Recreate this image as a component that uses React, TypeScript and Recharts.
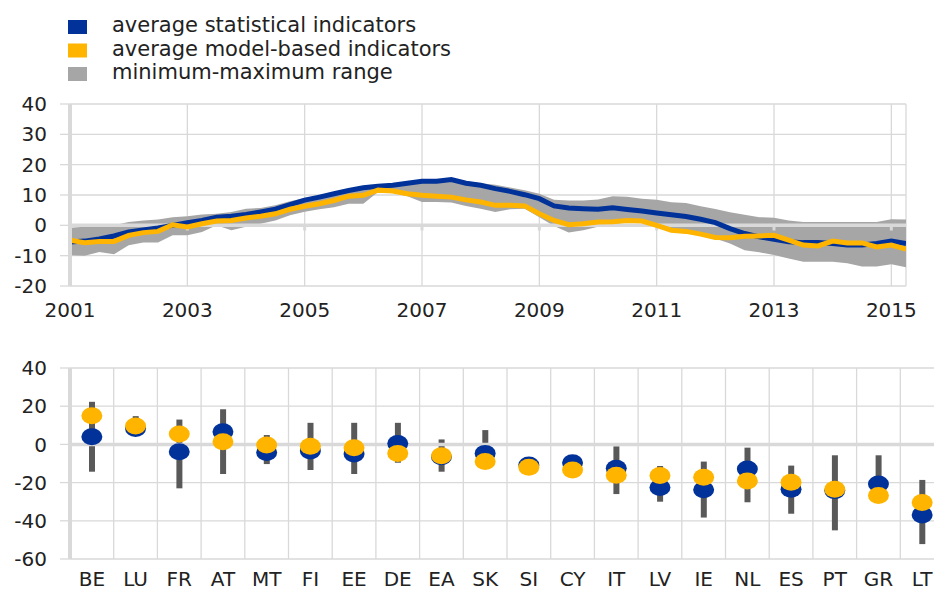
import {
  Area,
  Bar,
  CartesianGrid,
  ComposedChart,
  Line,
  ReferenceLine,
  XAxis,
  YAxis,
} from "recharts";

const BLUE = "#003299";
const ORANGE = "#ffb400";
const BAND = "#a6a6a6";
const RANGE = "#595959";
const GRID = "#d9d9d9";
const TEXT = "#222222";
const FONT = "'DejaVu Sans', sans-serif";

// top panel: quarterly, 2001Q1 .. 2015Q2
const START_YEAR = 2001;
const YEAR_TICKS = [2001, 2003, 2005, 2007, 2009, 2011, 2013, 2015];
const TOP_TICKS = [-20, -10, 0, 10, 20, 30, 40];

const STAT_TS = [
  -5.5, -5.2, -4.5, -3.5, -2.2, -1.5, -0.9, 0, 0.9, 1.6, 2.7, 3.0, 3.6, 4.4,
  5.3, 6.8, 8.3, 9.3, 10.4, 11.5, 12.4, 12.9, 13.2, 13.9, 14.5, 14.5, 15.1,
  13.9, 13.2, 12.1, 11.2, 10.1, 8.8, 6.4, 5.7, 5.5, 5.3, 5.8, 5.2, 4.7, 4.1,
  3.5, 2.9, 2.0, 0.9, -1.1, -2.7, -3.8, -4.6, -5.4, -5.7, -5.7, -6.0, -6.5,
  -6.5, -6.0, -5.2, -6.0,
];
const MODEL_TS = [
  -4.9, -5.7, -5.3, -5.3, -3.3, -2.4, -2.0, 0.2, -0.5, 0.5, 1.4, 1.6, 2.4,
  3.0, 3.8, 5.3, 6.3, 7.1, 8.2, 9.6, 9.9, 11.6, 11.3, 10.4, 9.9, 9.6, 9.3,
  8.4, 7.7, 6.6, 6.6, 6.4, 3.8, 1.6, 0.2, 0.5, 1.1, 1.2, 1.6, 1.4, 0, -1.6,
  -2.0, -2.9, -4.0, -4.1, -3.6, -3.5, -3.3, -4.9, -6.5, -6.8, -5.2, -5.8,
  -5.8, -7.1, -6.5, -7.8,
];
const MIN_TS = [
  -9.9, -10.0, -8.8, -9.5, -6.6, -5.7, -5.7, -3.3, -3.3, -2.2, 0, -1.6, -0.5,
  0.5, 1.6, 3.3, 4.5, 5.3, 6.0, 7.1, 7.1, 11.0, 10.8, 9.6, 7.7, 7.7, 7.5,
  6.4, 5.5, 4.4, 5.3, 5.5, 2.7, -0.2, -2.4, -1.6, -0.5, 0.3, 1.0, 0.8, -0.5,
  -2.0, -2.4, -3.3, -4.3, -6.0, -8.2, -8.9, -9.8, -10.9, -12.0, -12.0, -12.0,
  -12.5, -13.6, -13.6, -12.8, -13.8,
];
const MAX_TS = [
  -0.8, -0.5, 0, 0, 1.1, 1.6, 1.9, 2.7, 3.0, 3.6, 3.8, 4.4, 5.5, 5.7, 6.6,
  7.9, 9.0, 9.8, 10.8, 11.8, 12.6, 13.1, 13.5, 14.2, 14.9, 14.9, 15.5, 14.5,
  13.9, 13.4, 12.5, 11.6, 10.4, 8.4, 8.2, 8.2, 8.5, 9.6, 9.4, 8.8, 8.4, 7.6,
  7.4, 6.3, 5.4, 4.3, 3.5, 2.7, 2.5, 1.6, 1.1, 1.1, 1.1, 1.1, 1.1, 1.1, 2.0,
  1.9,
];

// bottom panel: by country
const COUNTRIES = [
  "BE", "LU", "FR", "AT", "MT", "FI", "EE", "DE", "EA", "SK",
  "SI", "CY", "IT", "LV", "IE", "NL", "ES", "PT", "GR", "LT",
];
const STAT_C = [
  4, 8.3, -3.8, 6.6, -4.3, -3.5, -5, 0.5, -6.5, -4.7, -10.8, -9.6, -12.5,
  -22.6, -23.8, -12.9, -23.5, -24.2, -20.7, -36.9,
];
const MODEL_C = [
  15, 9.6, 5.5, 1.4, -0.3, -1, -1.7, -4.7, -6, -9, -12, -13.4, -16.2, -16.3,
  -17.2, -19.1, -19.8, -23.5, -26.8, -30.4,
];
const MIN_C = [
  -14.3, 7.5, -23, -15.5, -10.3, -13.4, -15.5, -9.6, -14.3, -10, -12, -13.5,
  -26, -30, -38.3, -30.3, -36.3, -45, -27.3, -52.2,
];
const MAX_C = [
  22.3, 14.8, 13, 18.4, 4.9, 11.3, 11.3, 11.3, 2.6, 7.5, -10.5, -9, -1,
  -11.3, -9, -1.7, -11.1, -5.7, -5.7, -18.6,
];
const BOTTOM_TICKS = [-60, -40, -20, 0, 20, 40];

const LEGEND = [
  { label: "average statistical indicators", color: BLUE },
  { label: "average model-based indicators", color: ORANGE },
  { label: "minimum-maximum range", color: BAND },
];

const tsData = STAT_TS.map((v, i) => ({
  t: START_YEAR + i / 4,
  stat: v,
  model: MODEL_TS[i],
  band: [MIN_TS[i], MAX_TS[i]],
}));

const countryData = COUNTRIES.map((c, i) => ({
  c,
  stat: STAT_C[i],
  model: MODEL_C[i],
  range: [MIN_C[i], MAX_C[i]],
}));

const tickStyle = { fontFamily: FONT, fontSize: 20, fill: TEXT };

const ellipseDot = (fill: string) => (p: any) =>
  p.cx == null ? (
    <g key={`${fill}-${p.index}`} />
  ) : (
    <ellipse
      key={`${fill}-${p.index}`}
      cx={p.cx}
      cy={p.cy}
      rx={10.5}
      ry={8.5}
      fill={fill}
    />
  );

export default function App() {
  return (
    <div
      style={{
        position: "absolute",
        left: 0,
        top: 0,
        width: 934,
        height: 592,
        background: "#fff",
        overflow: "hidden",
      }}
    >
      <svg
        width={500}
        height={90}
        style={{ position: "absolute", left: 0, top: 0 }}
      >
        {LEGEND.map((l, i) => (
          <g key={l.label}>
            <rect x={68} y={20 + i * 23.5} width={19} height={14} fill={l.color} />
            <text
              x={112}
              y={32 + i * 23.5}
              fontFamily={FONT}
              fontSize={21}
              fill={TEXT}
            >
              {l.label}
            </text>
          </g>
        ))}
      </svg>

      <div style={{ position: "absolute", left: 0, top: 0 }}>
        <ComposedChart
          width={934}
          height={330}
          data={tsData}
          margin={{ top: 104, right: 28, bottom: 14, left: 8 }}
        >
          <CartesianGrid stroke={GRID} strokeWidth={1.3} />
          <XAxis
            dataKey="t"
            type="number"
            domain={[2001, 2015.25]}
            ticks={YEAR_TICKS}
            allowDataOverflow
            axisLine={false}
            tickLine={false}
            tickSize={0}
            tickMargin={17}
            height={30}
            tick={tickStyle}
          />
          <YAxis
            domain={[-20, 40]}
            ticks={TOP_TICKS}
            width={62}
            axisLine={{ stroke: GRID, strokeWidth: 4 }}
            tickLine={{ stroke: GRID, strokeWidth: 1.3 }}
            tickSize={10}
            tickMargin={13}
            tick={tickStyle}
          />
          <Area
            dataKey="band"
            type="linear"
            stroke="none"
            fill={BAND}
            fillOpacity={1}
            isAnimationActive={false}
            activeDot={false}
          />
          <ReferenceLine y={0} stroke={GRID} strokeWidth={3.5} />
          {YEAR_TICKS.slice(1).map((yr) => (
            <ReferenceLine
              key={yr}
              segment={[
                { x: yr, y: 0 },
                { x: yr, y: -1.7 },
              ]}
              stroke={GRID}
              strokeWidth={3}
            />
          ))}
          <Line
            dataKey="stat"
            type="linear"
            stroke={BLUE}
            strokeWidth={5}
            dot={false}
            activeDot={false}
            isAnimationActive={false}
          />
          <Line
            dataKey="model"
            type="linear"
            stroke={ORANGE}
            strokeWidth={5}
            dot={false}
            activeDot={false}
            isAnimationActive={false}
          />
        </ComposedChart>
      </div>

      <div
        style={{
          position: "absolute",
          left: 0,
          top: 340,
          width: 934,
          height: 252,
          overflow: "hidden",
        }}
      >
        <ComposedChart
          width={944}
          height={252}
          data={countryData}
          margin={{ top: 28, right: 0, bottom: 3, left: 8 }}
        >
          <CartesianGrid
            stroke={GRID}
            strokeWidth={1.3}
            verticalCoordinatesGenerator={(props: any) => {
              const left = props?.offset?.left ?? 70;
              const w = props?.offset?.width ?? 874;
              return COUNTRIES.map((_, i) => left + (i * w) / COUNTRIES.length);
            }}
          />
          <XAxis
            dataKey="c"
            type="category"
            axisLine={false}
            tickLine={false}
            tickSize={0}
            tickMargin={13}
            height={30}
            interval={0}
            tick={tickStyle}
          />
          <YAxis
            domain={[-60, 40]}
            ticks={BOTTOM_TICKS}
            width={62}
            axisLine={{ stroke: GRID, strokeWidth: 4 }}
            tickLine={{ stroke: GRID, strokeWidth: 1.3 }}
            tickSize={10}
            tickMargin={13}
            tick={tickStyle}
          />
          <ReferenceLine y={0} stroke={GRID} strokeWidth={3.5} />
          <Bar
            dataKey="range"
            fill={RANGE}
            barSize={6}
            isAnimationActive={false}
          />
          <Line
            dataKey="stat"
            stroke="none"
            strokeWidth={0}
            dot={ellipseDot(BLUE)}
            activeDot={false}
            isAnimationActive={false}
          />
          <Line
            dataKey="model"
            stroke="none"
            strokeWidth={0}
            dot={ellipseDot(ORANGE)}
            activeDot={false}
            isAnimationActive={false}
          />
        </ComposedChart>
      </div>
    </div>
  );
}
